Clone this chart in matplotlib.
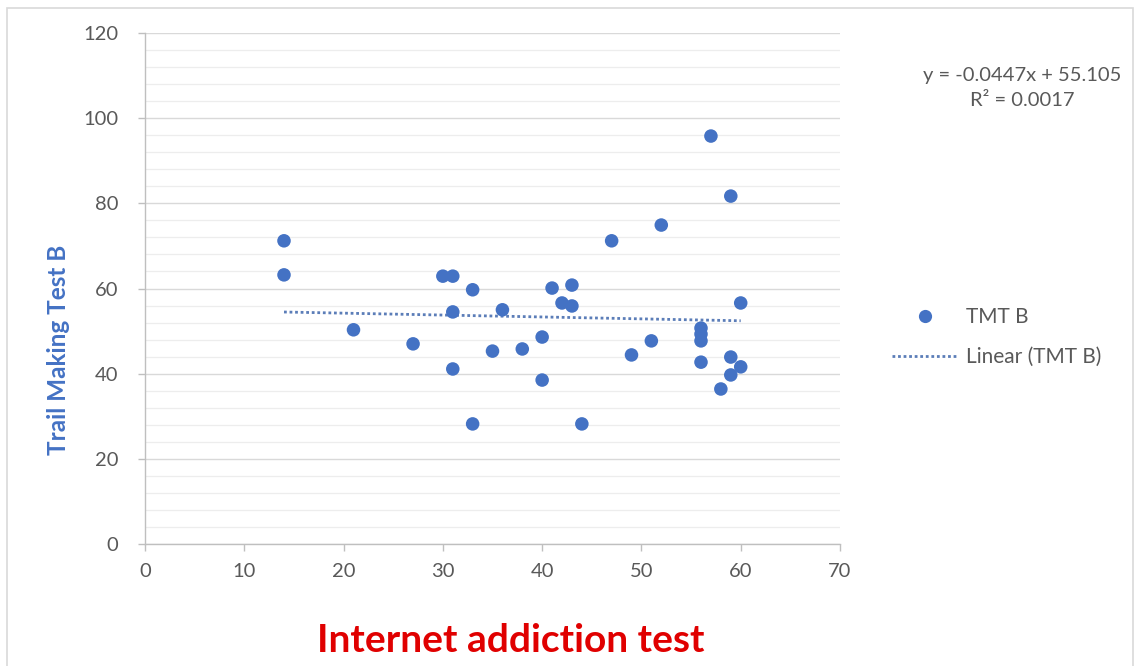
import matplotlib
matplotlib.use("Agg")
import matplotlib.pyplot as plt
from matplotlib.ticker import MultipleLocator
from matplotlib.lines import Line2D
from matplotlib.patches import Rectangle

# Internet addiction test score vs. Trail Making Test B time
iat_scores = [14, 14, 21, 27, 30, 31, 31, 31, 33, 33, 35, 36, 38, 40, 40,
              41, 42, 43, 43, 44, 47, 49, 51, 52, 56, 56, 56, 56, 57, 58,
              59, 59, 59, 60, 60]
tmt_b = [71.2, 63.2, 50.3, 47.0, 62.9, 62.9, 54.5, 41.1, 59.7, 28.2, 45.3,
         55.0, 45.8, 48.6, 38.5, 60.1, 56.6, 55.9, 60.8, 28.2, 71.2, 44.4,
         47.7, 74.9, 50.7, 49.3, 47.7, 42.7, 95.8, 36.4, 81.7, 43.9, 39.7,
         56.6, 41.6]

# Linear trendline as reported
slope = -0.0447
intercept = 55.105
r_squared = 0.0017

series_name = "TMT B"
trend_name = "Linear (TMT B)"
x_title = "Internet addiction test"
y_title = "Trail Making Test B"

BLUE = "#4472C4"
TREND = "#5B7DB8"
GRAY_TXT = "#595959"
FONT = ["Lato", "DejaVu Sans"]

plt.rcParams["font.family"] = FONT

fig = plt.figure(figsize=(11.34, 6.66), dpi=100)
fig.patch.set_facecolor("white")

# outer chart border
fig.add_artist(Rectangle((7 / 1134, -0.01), (1133 - 7) / 1134, 1 - 8 / 666 + 0.01,
                         transform=fig.transFigure, fill=False,
                         edgecolor="#D9D9D9", linewidth=1.2))

ax = fig.add_axes([145 / 1134, 1 - 544 / 666, (840 - 145) / 1134, (544 - 33) / 666])
ax.set_xlim(0, 70)
ax.set_ylim(0, 120)
ax.xaxis.set_major_locator(MultipleLocator(10))
ax.yaxis.set_major_locator(MultipleLocator(20))
ax.yaxis.set_minor_locator(MultipleLocator(4))

ax.grid(which="major", axis="y", color="#D9D9D9", linewidth=1.0)
ax.grid(which="minor", axis="y", color="#EDEDED", linewidth=0.9)
ax.set_axisbelow(True)

for side in ("top", "right"):
    ax.spines[side].set_visible(False)
for side in ("left", "bottom"):
    ax.spines[side].set_color("#BFBFBF")
    ax.spines[side].set_linewidth(1.0)

ax.tick_params(which="major", direction="out", length=5, width=1.0,
               color="#BFBFBF", labelcolor=GRAY_TXT, labelsize=14.5)
ax.tick_params(axis="y", pad=14)
ax.tick_params(axis="x", pad=9)
ax.tick_params(which="minor", length=0)

ax.scatter(iat_scores, tmt_b, s=95, color=BLUE, edgecolors="none", zorder=3,
           label=series_name)

x0, x1 = min(iat_scores), max(iat_scores)
ax.plot([x0, x1], [slope * x0 + intercept, slope * x1 + intercept],
        color=TREND, linewidth=2.0, linestyle=(0, (1, 1)), zorder=2,
        label=trend_name)

fig.text(59 / 1134, 1 - 350 / 666, y_title, color="#4472C4", fontsize=17.5,
         fontweight="bold", ha="center", va="center", rotation=90)

fig.text(511 / 1134, 1 - 641 / 666, x_title, color="#E00000", fontsize=28,
         fontweight="bold", ha="center", va="center")

# trendline equation
fig.text(1022 / 1134, 1 - 75 / 666, f"y = {slope}x + {intercept}",
         color=GRAY_TXT, fontsize=14.5, ha="center", va="center")
fig.text(1022 / 1134, 1 - 101 / 666, f"R² = {r_squared}",
         color=GRAY_TXT, fontsize=14.5, ha="center", va="center")

handles = [Line2D([], [], marker="o", linestyle="none", color=BLUE,
                  markersize=9.5, markeredgewidth=0),
           Line2D([], [], color=TREND, linewidth=2.0, linestyle=(0, (1, 1)))]
fig.legend(handles, [series_name, trend_name], loc="center left",
           bbox_to_anchor=(892 / 1134, 1 - 337 / 666),
           bbox_transform=fig.transFigure, frameon=False, fontsize=15,
           labelcolor=GRAY_TXT, handlelength=3.15, handletextpad=0.4,
           labelspacing=0.95, borderpad=0, borderaxespad=0)

fig.savefig("out.png", dpi=100, facecolor="white")
